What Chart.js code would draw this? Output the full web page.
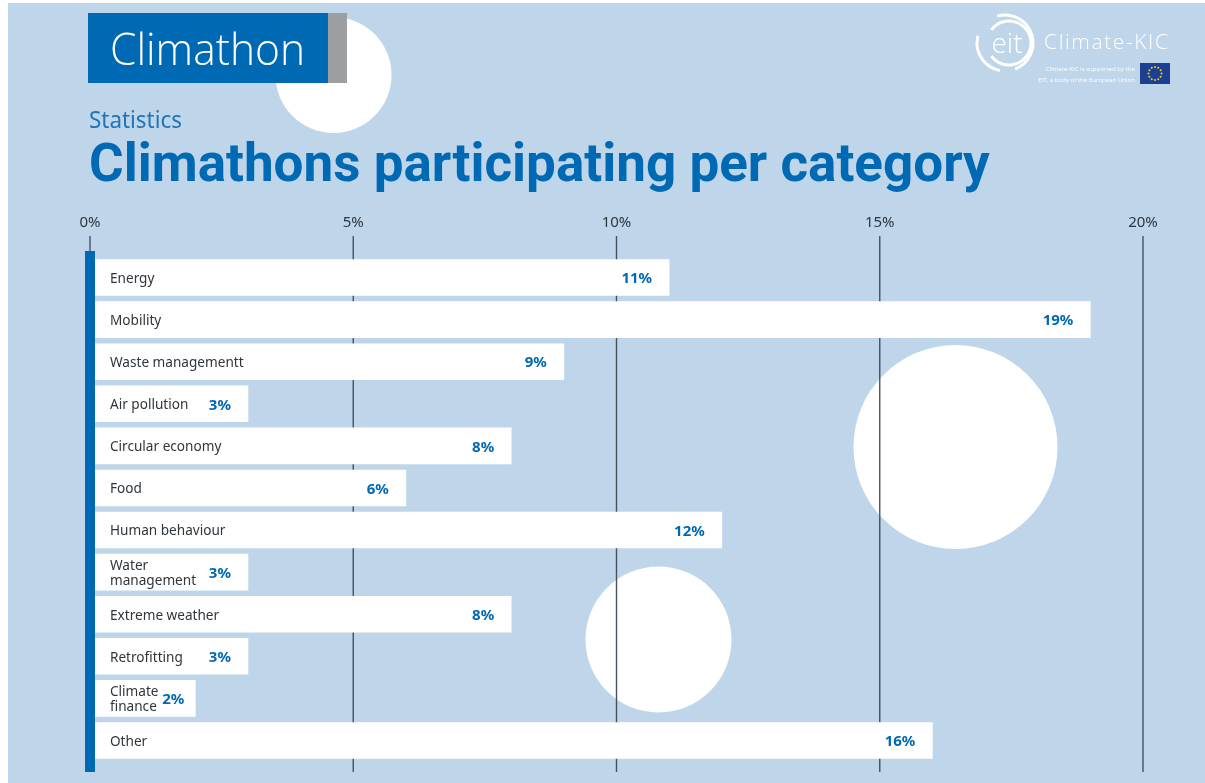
<!DOCTYPE html>
<html><head><meta charset="utf-8">
<style>html,body{margin:0;padding:0;background:#fff;overflow:hidden}
#wrap{position:absolute;left:0;top:0;width:1205px;height:783px}</style>
<script src="https://cdn.jsdelivr.net/npm/chart.js@4/dist/chart.umd.min.js"></script>
</head><body><div id="wrap"><canvas id="c" width="1205" height="783"></canvas></div>
<script>
const categories=["Energy","Mobility","Waste managementt","Air pollution","Circular economy","Food","Human behaviour",["Water","management"],"Extreme weather","Retrofitting",["Climate","finance"],"Other"];
const shares=[11,19,9,3,8,6,12,3,8,3,2,16];
const axisTicks=[0,5,10,15,20];
const BLUE='#0069b4',BG='#bfd6ea',GRID='#46515c',TXT='#2f363c';
const FONT='"Noto Sans"';
const backdrop={id:'backdrop',beforeDraw(ch){
  const c=ch.ctx;c.save();
  c.fillStyle='#fff';c.fillRect(0,0,1205,783);
  c.fillStyle=BG;c.fillRect(8,3,1197,780);
  c.fillStyle='#fff';
  [[333.5,75,58],[955.5,447,102],[658.5,639.5,73]].forEach(a=>{c.beginPath();c.arc(a[0],a[1],a[2],0,Math.PI*2);c.fill();});
  // header box
  c.fillStyle=BLUE;c.fillRect(88,13,240,70);
  c.fillStyle='#9d9ea1';c.fillRect(328,13,19,70);
  c.fillStyle='#fff';c.font='300 45px "Open Sans"';c.textBaseline='alphabetic';c.textAlign='left';
  c.fillText('Climathon',110,65,195);
  c.fillStyle='#1f74ba';c.font='400 23px "Noto Sans"';c.fillText('Statistics',89,128,93);
  c.fillStyle=BLUE;c.font='700 53px Roboto';c.fillText('Climathons participating per category',89,181,901);
  // logo
  c.strokeStyle='#fff';c.lineWidth=3;
  c.beginPath();c.arc(1009,43,22,-2.5,2.5);c.stroke();
  c.beginPath();c.arc(1005,43,28,-1.85,1.2);c.stroke();
  c.beginPath();c.arc(1005,43,28,1.75,3.4);c.stroke();
  c.fillStyle='#fff';c.font='300 28px "Open Sans"';c.textAlign='center';c.fillText('eit',1007,53);
  c.textAlign='left';c.font='300 21px "Open Sans"';c.letterSpacing='1.6px';c.fillText('Climate-KIC',1044,49);c.letterSpacing='0px';
  c.textAlign='right';c.font='400 6.1px "Open Sans"';
  c.fillText('Climate-KIC is supported by the',1135,71);
  c.fillText('EIT, a body of the European Union',1135,82);
  c.fillStyle='#1c3f94';c.fillRect(1140,63,30,21);
  c.fillStyle='#f7d117';
  for(let i=0;i<12;i++){const t=i*Math.PI/6;c.beginPath();c.arc(1155+6.5*Math.cos(t),73.5+6.5*Math.sin(t),1,0,7);c.fill();}
  c.restore();
}};
const overlay={id:'overlay',
 beforeDatasetsDraw(ch){
  const c=ch.ctx,x=ch.scales.x;c.save();c.strokeStyle=GRID;c.lineWidth=1.4;
  axisTicks.forEach(v=>{const p=x.getPixelForValue(v);c.beginPath();c.moveTo(p,236);c.lineTo(p,772);c.stroke();});
  c.restore();
 },
 afterDatasetsDraw(ch){
  const c=ch.ctx,x=ch.scales.x,z=x.getPixelForValue(0);c.save();
  c.fillStyle=BLUE;c.fillRect(z-5,251,10,521);
  c.font='700 15px "Noto Sans"';c.textAlign='right';c.textBaseline='middle';
  ch.getDatasetMeta(0).data.forEach((b,i)=>{
    const v=shares[i];c.fillText(v+'%',b.x-(v<3?11:17),b.y+1.5);
  });
  c.restore();
 }};
new Chart(document.getElementById('c'),{
 type:'bar',
 data:{labels:categories,datasets:[{data:shares,backgroundColor:'#fff',borderWidth:0,barThickness:36}]},
 plugins:[backdrop,overlay],
 options:{indexAxis:'y',responsive:false,animation:false,
  layout:{padding:{left:90,right:62,top:0,bottom:21.5}},
  plugins:{legend:{display:false},tooltip:{enabled:false}},
  scales:{
   x:{position:'top',min:0,max:20,afterFit(a){a.height=256.5},
     ticks:{stepSize:5,padding:4,maxRotation:0,color:TXT,font:{family:FONT,size:15},callback:v=>v+'%'},
     grid:{display:false,drawTicks:true,tickLength:21},border:{display:false}},
   y:{ticks:{mirror:true,padding:20,z:1,labelOffset:1.5,color:TXT,font:{family:FONT,size:13.6,lineHeight:1.1}},
     grid:{display:false},border:{display:false},afterFit(a){a.width=0;a.paddingTop=0;a.paddingBottom=0}}
  }}
});
</script></body></html>
